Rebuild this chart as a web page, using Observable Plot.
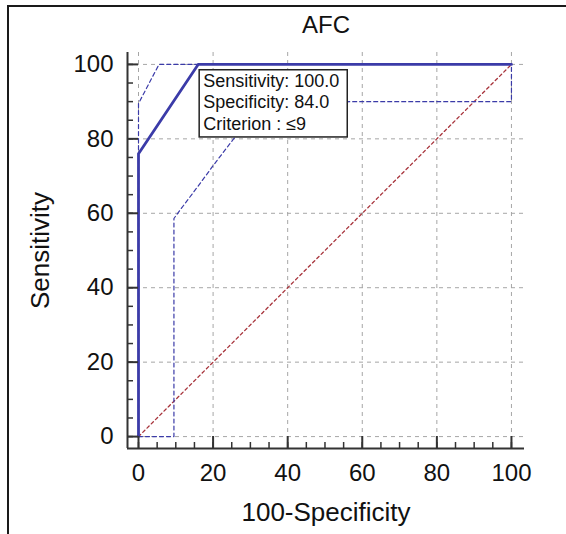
<!DOCTYPE html>
<html><head><meta charset="utf-8">
<script src="https://cdn.jsdelivr.net/npm/d3@7"></script>
<script src="https://cdn.jsdelivr.net/npm/@observablehq/plot@0.6"></script>
<style>
body{margin:0;background:#fff;}
#wrap{position:relative;width:566px;height:534px;overflow:hidden;}
#wrap svg{position:absolute;left:0;top:0;}
#frame{position:absolute;left:7px;top:5px;width:600px;height:600px;border-left:2px solid #1a1a1a;border-top:2px solid #1a1a1a;pointer-events:none;}
</style></head><body><div id="wrap"><div id="frame"></div></div>
<script>
const title = "AFC";
const xLabel = "100-Specificity";
const yLabel = "Sensitivity";
const majorTicks = [0, 20, 40, 60, 80, 100];
const minorTicks = [0,5,10,15,20,25,30,35,40,45,50,55,60,65,70,75,80,85,90,95,100];
const xDomain = [-2.95, 103.5];
const yDomain = [-3.2, 103.2];

// ROC curve
const rocX = [0, 0, 16, 100];
const rocY = [0, 76, 100, 100];
// upper confidence bound
const upperX = [0, 0, 5.5, 100];
const upperY = [0, 89.5, 100, 100];
// lower confidence bound
const lowerX = [0, 9.5, 9.5, 10.5, 16.8, 19.7, 25.5, 32, 40, 57, 100, 100];
const lowerY = [0, 0, 58.6, 60, 68.4, 72.4, 80, 86, 89, 90, 90, 100];
// reference diagonal
const diagX = [0, 100];
const diagY = [0, 100];
// criterion annotation
const critX = [16];
const critY = [100];
const critLines = ["Sensitivity: 100.0", "Specificity: 84.0", "Criterion : \u22649"];

const toPts = (xs, ys) => xs.map((x, i) => ({x, y: ys[i]}));
const roc = toPts(rocX, rocY), upper = toPts(upperX, upperY), lower = toPts(lowerX, lowerY), diag = toPts(diagX, diagY);
const crit = toPts(critX, critY).map(d => ({...d, text: critLines.join("\n")}));

const W = 566, H = 534, mL = 127, mR = 42, mT = 52, mB = 86;
const frameH = H - mT - mB, frameW = W - mL - mR;
const axisColor = "#333";
const blue = "#3b3ba8";

const plot = Plot.plot({
  width: W, height: H, marginLeft: mL, marginRight: mR, marginTop: mT, marginBottom: mB,
  style: {fontFamily: "'Liberation Sans', Arial, sans-serif", background: "transparent", color: "#111"},
  x: {domain: xDomain},
  y: {domain: yDomain},
  marks: [
    Plot.ruleX(majorTicks, {x: d => d, stroke: "#a6a6a6", strokeDasharray: "4,4", strokeWidth: 1}),
    Plot.ruleY(majorTicks, {y: d => d, stroke: "#a6a6a6", strokeDasharray: "4,4", strokeWidth: 1}),
    Plot.line(diag, {x: "x", y: "y", stroke: "#a8343c", strokeDasharray: "3,3", strokeWidth: 1.3}),
    Plot.line(lower, {x: "x", y: "y", stroke: blue, strokeDasharray: "4,3", strokeWidth: 1.2}),
    Plot.line(upper, {x: "x", y: "y", stroke: blue, strokeDasharray: "4,3", strokeWidth: 1.2}),
    Plot.line(roc, {x: "x", y: "y", stroke: blue, strokeWidth: 2.8}),
    // axis lines
    Plot.ruleY([yDomain[0]], {stroke: axisColor, strokeWidth: 2}),
    Plot.ruleX([xDomain[0]], {stroke: axisColor, strokeWidth: 2}),
    // inward ticks
    Plot.ruleX(majorTicks, {x: d => d, insetTop: frameH - 12, stroke: axisColor, strokeWidth: 2}),
    Plot.ruleX(minorTicks, {x: d => d, insetTop: frameH - 6, stroke: axisColor, strokeWidth: 1.5}),
    Plot.ruleY(majorTicks, {y: d => d, insetRight: frameW - 11, stroke: axisColor, strokeWidth: 2}),
    Plot.ruleY(minorTicks, {y: d => d, insetRight: frameW - 6, stroke: axisColor, strokeWidth: 1.5}),
    Plot.axisX({ticks: majorTicks, tickSize: 0, tickPadding: 15, fontSize: 24, label: null}),
    Plot.axisY({ticks: majorTicks, tickSize: 0, tickPadding: 14, fontSize: 24, label: null}),
    Plot.text([title], {text: d => d, frameAnchor: "top", lineAnchor: "middle", dy: -27, fontSize: 24}),
    Plot.text([xLabel], {text: d => d, frameAnchor: "bottom", lineAnchor: "middle", dy: 64, fontSize: 26}),
    Plot.text([yLabel], {text: d => d, frameAnchor: "left", textAnchor: "middle", lineAnchor: "middle", dx: -87, rotate: -90, fontSize: 26}),
    Plot.text(crit, {x: "x", y: "y", text: "text", textAnchor: "start", lineAnchor: "top", dx: 5, dy: 7, fontSize: 18, lineHeight: 1.2, className: "crit"})
  ]
});
document.getElementById("wrap").insertBefore(plot, document.getElementById("frame"));

// white box behind the criterion annotation (drawn in the text group's own coordinates)
const critG = plot.querySelector("g.crit") || [...plot.querySelectorAll("g[aria-label='text']")].pop();
const bb = critG.getBBox();
const ns = "http://www.w3.org/2000/svg";
const rect = document.createElementNS(ns, "rect");
rect.setAttribute("x", bb.x - 4);
rect.setAttribute("y", bb.y - 1);
rect.setAttribute("width", bb.width + 12);
rect.setAttribute("height", bb.height + 4);
rect.setAttribute("fill", "white");
rect.setAttribute("stroke", "#222");
rect.setAttribute("stroke-width", 1.5);
critG.insertBefore(rect, critG.firstChild);
</script></body></html>
